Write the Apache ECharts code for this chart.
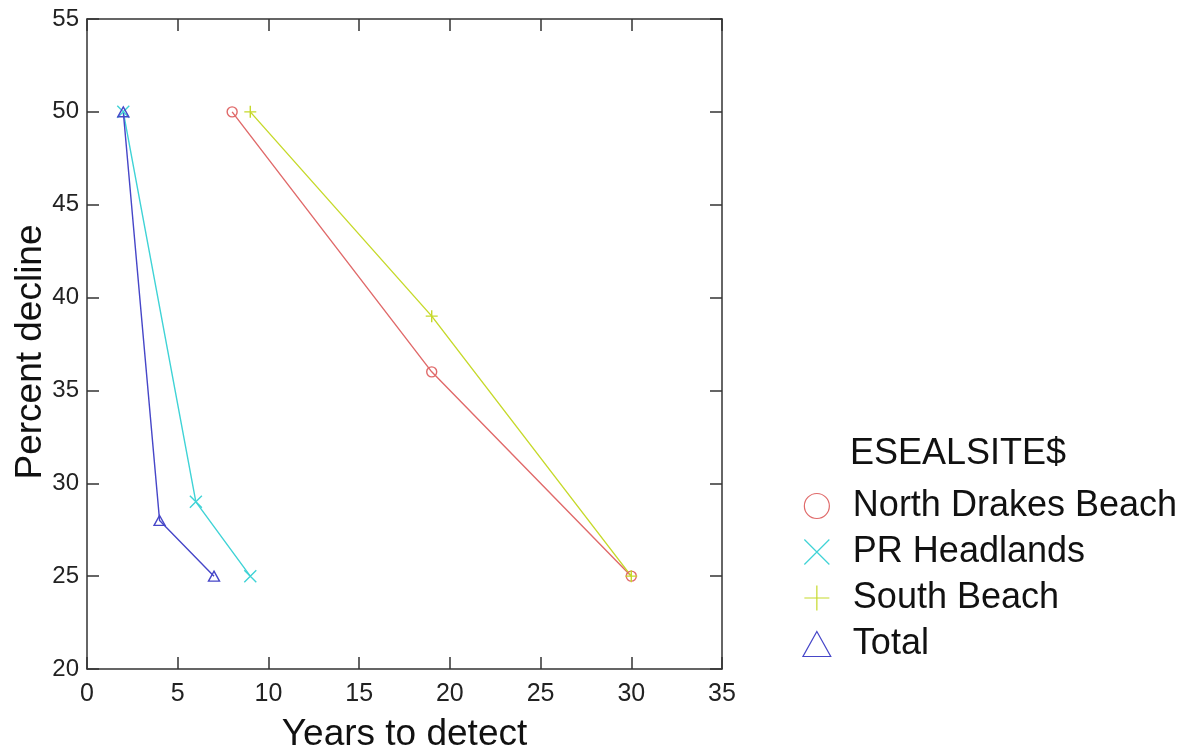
<!DOCTYPE html>
<html>
<head>
<meta charset="utf-8">
<script src="https://cdn.jsdelivr.net/npm/echarts@6/dist/echarts.min.js"></script>
<style>html,body{margin:0;padding:0;background:#fff;}#c{width:1191px;height:755px;}</style>
</head>
<body>
<div id="c"></div>
<script>
const xTicks = [0, 5, 10, 15, 20, 25, 30, 35];
const yTicks = [20, 25, 30, 35, 40, 45, 50, 55];
const seriesNames = ['North Drakes Beach', 'PR Headlands', 'South Beach', 'Total'];
const northDrakes = [[8, 50], [19, 36], [30, 25]];
const prHeadlands = [[2, 50], [6, 29], [9, 25]];
const southBeach = [[9, 50], [19, 39], [30, 25]];
const total = [[2, 50], [4, 28], [7, 25]];

const colors = {
  'North Drakes Beach': '#e06a6a',
  'PR Headlands': '#3fd3d6',
  'South Beach': '#c6d92a',
  'Total': '#4646c8'
};
const symbols = {
  'North Drakes Beach': 'circle',
  'PR Headlands': 'path://M0,0L10,10M10,0L0,10',
  'South Beach': 'path://M5,0L5,10M0,5L10,5',
  'Total': 'path://M5,0L10,9L0,9Z'
};
const symSize = {
  'North Drakes Beach': 10,
  'PR Headlands': 12,
  'South Beach': 12,
  'Total': 11
};
const dataMap = {
  'North Drakes Beach': northDrakes,
  'PR Headlands': prHeadlands,
  'South Beach': southBeach,
  'Total': total
};
const drawOrder = ['PR Headlands', 'Total', 'North Drakes Beach', 'South Beach'];

const font = 'Liberation Sans, Arial, sans-serif';
const axisColor = '#333';

const chart = echarts.init(document.getElementById('c'));
const series = drawOrder.map(n => ({
  name: n,
  type: 'line',
  data: dataMap[n],
  symbol: symbols[n],
  symbolSize: symSize[n],
  symbolKeepAspect: true,
  showAllSymbol: true,
  color: colors[n],
  lineStyle: { color: colors[n], width: 1.4 },
  itemStyle: { color: 'rgba(255,255,255,0)', borderColor: colors[n], borderWidth: 1.4 },
  emphasis: { disabled: true },
  animation: false
}));

const baseAxis = {
  axisLine: { show: true, onZero: false, lineStyle: { color: axisColor, width: 1.5 } },
  axisTick: { show: true, inside: true, length: 12, lineStyle: { color: axisColor, width: 1.5 } },
  splitLine: { show: false }
};

chart.setOption({
  animation: false,
  backgroundColor: '#fff',
  grid: { left: 87, right: 469, top: 19, bottom: 86, show: false, containLabel: false, outerBoundsMode: 'none' },
  title: {
    text: 'ESEALSITE$',
    left: 850, top: 436, padding: 0,
    textStyle: { fontFamily: font, fontSize: 36, fontWeight: 'normal', color: '#111' }
  },
  legend: {
    orient: 'vertical',
    right: 14, top: 488, padding: 0,
    itemGap: 10,
    itemWidth: 62, itemHeight: 25,
    symbolKeepAspect: true,
    selectedMode: false,
    textStyle: { fontFamily: font, fontSize: 36, lineHeight: 35, color: '#111' },
    data: seriesNames.map(n => ({
      name: n,
      icon: symbols[n],
      itemStyle: { color: 'rgba(255,255,255,0)', borderColor: colors[n], borderWidth: 1.2 }
    }))
  },
  xAxis: [
    Object.assign({}, baseAxis, {
      type: 'value', min: xTicks[0], max: xTicks[xTicks.length - 1], interval: 5,
      position: 'bottom',
      name: 'Years to detect', nameLocation: 'middle', nameGap: 47,
      nameTextStyle: { fontFamily: font, fontSize: 37, color: '#111' },
      axisLabel: { fontFamily: font, fontSize: 25, color: '#222', margin: 13 }
    }),
    Object.assign({}, baseAxis, {
      type: 'value', min: xTicks[0], max: xTicks[xTicks.length - 1], interval: 5,
      position: 'top', axisLabel: { show: false }
    })
  ],
  yAxis: [
    Object.assign({}, baseAxis, {
      type: 'value', min: yTicks[0], max: yTicks[yTicks.length - 1], interval: 5,
      position: 'left',
      name: 'Percent decline', nameLocation: 'middle', nameGap: 38, nameMoveOverlap: false,
      nameTextStyle: { fontFamily: font, fontSize: 37, color: '#111', padding: [0, 16, 0, 0] },
      axisLabel: { fontFamily: font, fontSize: 24, color: '#222', margin: 8 }
    }),
    Object.assign({}, baseAxis, {
      type: 'value', min: yTicks[0], max: yTicks[yTicks.length - 1], interval: 5,
      position: 'right', axisLabel: { show: false }
    })
  ],
  series: series
});
</script>
</body>
</html>
